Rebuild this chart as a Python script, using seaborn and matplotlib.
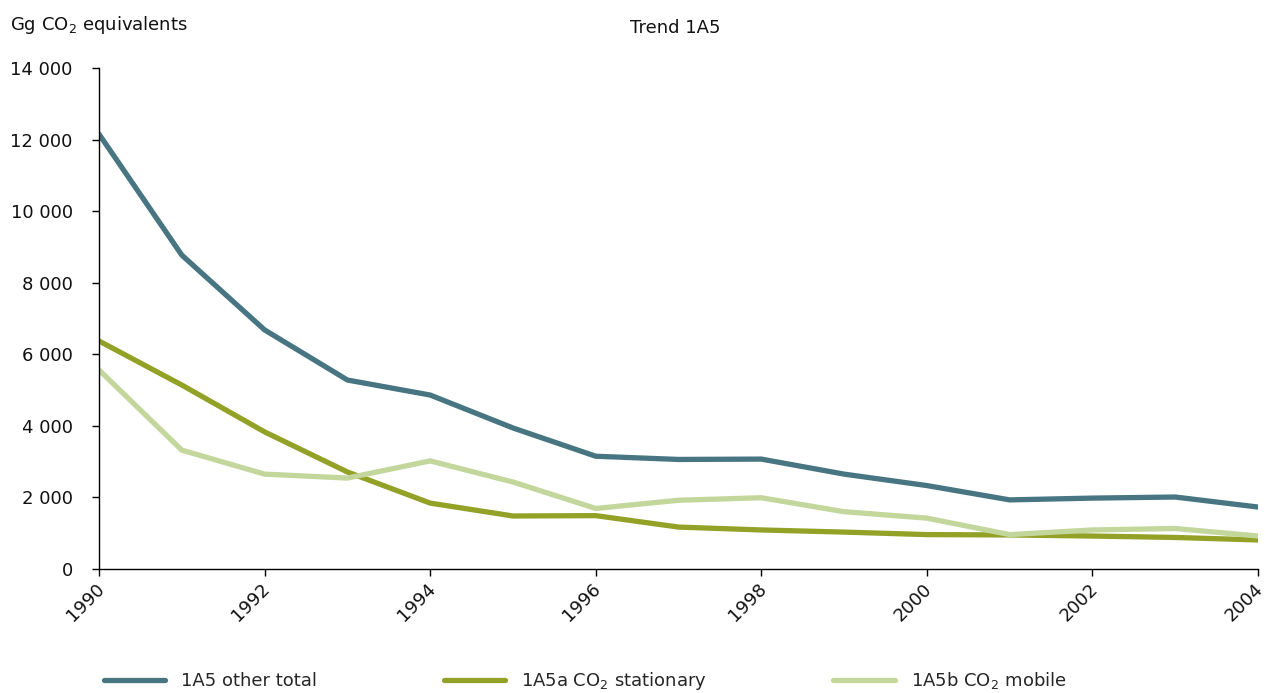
import pandas as pd
import matplotlib.pyplot as plt
import matplotlib.ticker as mticker
import matplotlib.transforms as mtransforms
import seaborn as sns

# ==============================
# DATA (Gg CO2 equivalents)
# ==============================
years = list(range(1990, 2005))
total = [12150, 8770, 6680, 5280, 4860, 3940, 3150, 3060, 3070, 2650, 2330, 1930, 1980, 2010, 1730]
stationary = [6370, 5140, 3830, 2710, 1840, 1480, 1490, 1170, 1090, 1030, 960, 950, 920, 880, 810]
mobile = [5560, 3320, 2650, 2540, 3020, 2430, 1690, 1920, 1990, 1600, 1420, 960, 1090, 1130, 920]

series_names = ["1A5 other total", "1A5a CO$_2$ stationary", "1A5b CO$_2$ mobile"]
colors = ["#477581", "#93a127", "#c3d69b"]
x_ticks = list(range(1990, 2005, 2))
y_ticks = list(range(0, 14001, 2000))

df = pd.DataFrame({
    "year": years * 3,
    "value": total + stationary + mobile,
    "series": [series_names[0]] * len(years) + [series_names[1]] * len(years) + [series_names[2]] * len(years),
})

# ==============================
# PLOT
# ==============================
sns.set_theme(style="white")
plt.rcParams["font.family"] = ["DejaVu Sans"]
fs = 13

fig = plt.figure(figsize=(12.65, 6.93), dpi=100)
ax = fig.add_axes([0.0783, 0.179, 0.9162, 0.7229])

sns.lineplot(data=df, x="year", y="value", hue="series", hue_order=series_names,
             palette=colors, linewidth=3.8, ax=ax, solid_joinstyle="round",
             solid_capstyle="round")

ax.set_xlim(1990, 2004)
ax.set_ylim(0, 14000)
ax.set_xticks(x_ticks)
ax.set_yticks(y_ticks)
ax.yaxis.set_major_formatter(mticker.FuncFormatter(lambda v, p: f"{int(v):,}".replace(",", " ")))
ax.set_xlabel("")
ax.set_ylabel("")

for side in ["top", "right"]:
    ax.spines[side].set_visible(False)
for side in ["left", "bottom"]:
    ax.spines[side].set_color("black")
    ax.spines[side].set_linewidth(1.0)

ax.tick_params(axis="both", which="major", direction="out", length=5, width=1,
               color="black", labelsize=fs, labelcolor="#111111", left=True, bottom=True)
ax.tick_params(axis="y", pad=14)
ax.tick_params(axis="x", pad=3)
shift = mtransforms.ScaledTranslation(-4 / 100, 0, fig.dpi_scale_trans)
for lab in ax.get_xticklabels():
    lab.set_rotation(45)
    lab.set_ha("right")
    lab.set_rotation_mode("anchor")
    lab.set_transform(lab.get_transform() + shift)

fig.text(0.008, 0.957, "Gg CO$_2$ equivalents", fontsize=fs, color="#111111", va="baseline")
fig.text(0.534, 0.952, "Trend 1A5", fontsize=fs, color="#111111", ha="center", va="baseline")

handles, labels = ax.get_legend_handles_labels()
ax.get_legend().remove()
leg = fig.legend(handles, labels, loc="center left", bbox_to_anchor=(0.069, 0.017),
                 ncol=3, frameon=False, fontsize=fs, handlelength=3.4,
                 handletextpad=0.9, columnspacing=7.0)
for h in leg.get_lines():
    h.set_linewidth(3.8)

plt.savefig("out.png", dpi=100)
plt.close()
